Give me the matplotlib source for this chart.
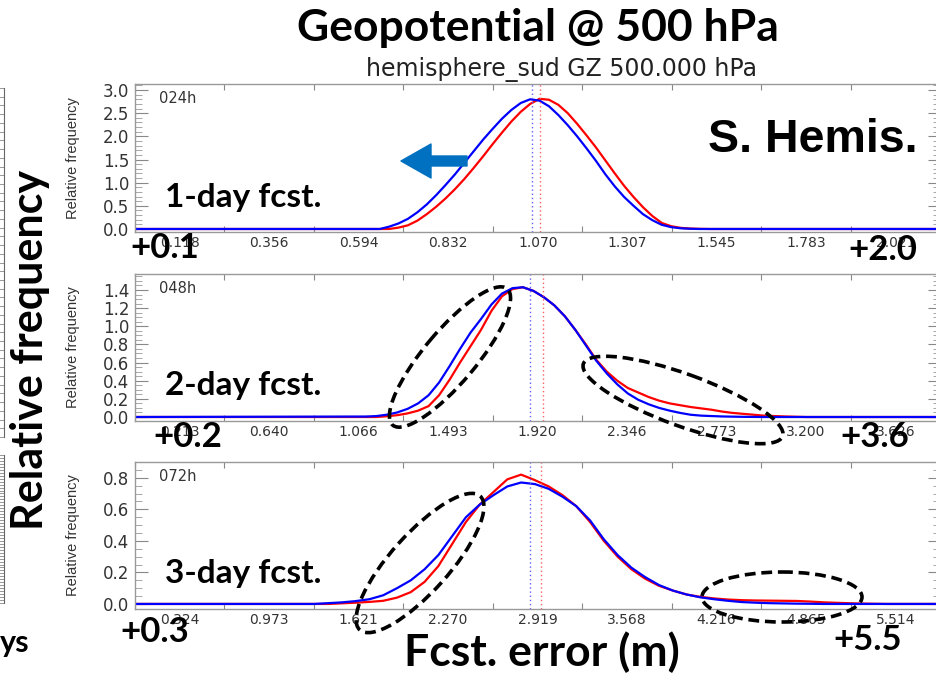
import numpy as np
import matplotlib.pyplot as plt
from matplotlib.patches import Ellipse, FancyArrow
from matplotlib.ticker import MultipleLocator, FixedLocator, NullFormatter

W, H = 936, 678

# x tick labels of each panel (IDL puts them at bin centres)
x_labels_24 = [0.118, 0.356, 0.594, 0.832, 1.070, 1.307, 1.545, 1.783, 2.021]
x_labels_48 = [0.213, 0.640, 1.066, 1.493, 1.920, 2.346, 2.773, 3.200, 3.626]
x_labels_72 = [0.324, 0.973, 1.621, 2.270, 2.919, 3.568, 4.216, 4.865, 5.514]

# curves: (error, relative frequency)
blue_x_24 = [0.0, 0.650, 0.675, 0.700, 0.725, 0.750, 0.775, 0.800, 0.825, 0.850, 0.875, 0.900, 0.925,
             0.950, 0.975, 1.000, 1.025, 1.050, 1.075, 1.100, 1.125, 1.150, 1.175, 1.200, 1.225,
             1.250, 1.275, 1.300, 1.325, 1.350, 1.375, 1.400, 1.425, 1.450, 1.475, 1.500, 2.139]
blue_y_24 = [0.0, 0.0, 0.05, 0.12, 0.22, 0.36, 0.53, 0.73, 0.95, 1.18, 1.43, 1.68, 1.93,
             2.16, 2.38, 2.57, 2.72, 2.80, 2.77, 2.65, 2.46, 2.24, 2.00, 1.74, 1.47,
             1.18, 0.92, 0.69, 0.50, 0.32, 0.19, 0.09, 0.04, 0.015, 0.005, 0.0, 0.0]
red_x_24 = [0.0, 0.675, 0.700, 0.725, 0.750, 0.775, 0.800, 0.825, 0.850, 0.875, 0.900, 0.925, 0.950,
            0.975, 1.000, 1.025, 1.050, 1.075, 1.100, 1.125, 1.150, 1.175, 1.200, 1.225, 1.250,
            1.275, 1.300, 1.325, 1.350, 1.375, 1.400, 1.425, 1.450, 1.475, 1.500, 1.530, 2.139]
red_y_24 = [0.0, 0.0, 0.03, 0.08, 0.18, 0.32, 0.48, 0.66, 0.86, 1.08, 1.32, 1.57, 1.83,
            2.08, 2.32, 2.53, 2.70, 2.81, 2.79, 2.68, 2.50, 2.27, 2.02, 1.76, 1.48,
            1.20, 0.93, 0.69, 0.47, 0.28, 0.13, 0.06, 0.025, 0.01, 0.004, 0.0, 0.0]

blue_x_48 = [0.0, 1.10, 1.15, 1.20, 1.25, 1.30, 1.35, 1.40, 1.45, 1.50, 1.55, 1.60, 1.65, 1.70, 1.75,
             1.80, 1.85, 1.90, 1.95, 2.00, 2.05, 2.10, 2.15, 2.20, 2.25, 2.30, 2.35, 2.40, 2.45,
             2.50, 2.55, 2.60, 2.65, 2.70, 2.80, 2.90, 3.00, 3.839]
blue_y_48 = [0.0, 0.005, 0.01, 0.025, 0.05, 0.09, 0.15, 0.24, 0.38, 0.56, 0.75, 0.93, 1.08, 1.24, 1.36,
             1.42, 1.43, 1.39, 1.32, 1.23, 1.11, 0.96, 0.79, 0.62, 0.48, 0.36, 0.26, 0.19, 0.14,
             0.10, 0.07, 0.045, 0.025, 0.015, 0.006, 0.002, 0.0, 0.0]
red_x_48 = [0.0, 1.15, 1.20, 1.25, 1.30, 1.35, 1.40, 1.45, 1.50, 1.55, 1.60, 1.65, 1.70, 1.75, 1.80,
            1.85, 1.90, 1.95, 2.00, 2.05, 2.10, 2.15, 2.20, 2.25, 2.30, 2.35, 2.40, 2.45, 2.50,
            2.55, 2.60, 2.65, 2.70, 2.75, 2.80, 2.85, 2.90, 2.95, 3.00, 3.10, 3.20, 3.839]
red_y_48 = [0.0, 0.0, 0.008, 0.02, 0.04, 0.07, 0.12, 0.24, 0.41, 0.60, 0.78, 0.96, 1.17, 1.33, 1.41,
            1.43, 1.39, 1.32, 1.23, 1.11, 0.96, 0.80, 0.63, 0.50, 0.40, 0.32, 0.27, 0.22, 0.18,
            0.15, 0.13, 0.11, 0.095, 0.08, 0.06, 0.045, 0.035, 0.025, 0.015, 0.006, 0.0, 0.0]

blue_x_72 = [0.0, 1.30, 1.40, 1.50, 1.60, 1.70, 1.80, 1.90, 2.00, 2.10, 2.20, 2.30, 2.40, 2.50, 2.60,
             2.70, 2.80, 2.90, 3.00, 3.10, 3.20, 3.30, 3.40, 3.50, 3.60, 3.70, 3.80, 3.90, 4.00,
             4.10, 4.20, 4.30, 4.40, 4.50, 4.60, 4.80, 5.00, 5.838]
blue_y_72 = [0.0, 0.0, 0.005, 0.01, 0.018, 0.03, 0.055, 0.10, 0.15, 0.22, 0.31, 0.43, 0.55, 0.63, 0.69,
             0.745, 0.77, 0.76, 0.73, 0.68, 0.62, 0.53, 0.41, 0.31, 0.23, 0.17, 0.12, 0.085, 0.06,
             0.042, 0.03, 0.02, 0.012, 0.008, 0.005, 0.002, 0.0, 0.0]
red_x_72 = [0.0, 1.40, 1.50, 1.60, 1.70, 1.80, 1.90, 2.00, 2.10, 2.20, 2.30, 2.40, 2.50, 2.60, 2.70,
            2.80, 2.90, 3.00, 3.10, 3.20, 3.30, 3.40, 3.50, 3.60, 3.70, 3.80, 3.90, 4.00, 4.10,
            4.20, 4.30, 4.40, 4.50, 4.60, 4.70, 4.80, 4.90, 5.00, 5.10, 5.20, 5.30, 5.45, 5.838]
red_y_72 = [0.0, 0.0, 0.004, 0.008, 0.013, 0.02, 0.04, 0.075, 0.14, 0.24, 0.38, 0.52, 0.63, 0.71, 0.79,
            0.82, 0.785, 0.745, 0.69, 0.62, 0.52, 0.40, 0.30, 0.22, 0.16, 0.115, 0.085, 0.06, 0.045,
            0.035, 0.028, 0.024, 0.022, 0.021, 0.02, 0.019, 0.015, 0.01, 0.007, 0.004, 0.002, 0.0, 0.0]

# mean error (dotted verticals)
blue_mean = [1.056, 1.884, 2.865]
red_mean = [1.077, 1.946, 2.945]

leads = ['024h', '048h', '072h']
y_ticks = [[0.0, 0.5, 1.0, 1.5, 2.0, 2.5, 3.0],
           [0.0, 0.2, 0.4, 0.6, 0.8, 1.0, 1.2, 1.4],
           [0.0, 0.2, 0.4, 0.6, 0.8]]
y_limits = [(-0.065, 3.13), (-0.044, 1.576), (-0.032, 0.90)]
y_minor = [0.1, 0.05, 0.05]

panels = [
    (x_labels_24, blue_x_24, blue_y_24, red_x_24, red_y_24),
    (x_labels_48, blue_x_48, blue_y_48, red_x_48, red_y_48),
    (x_labels_72, blue_x_72, blue_y_72, red_x_72, red_y_72),
]
# top / bottom pixel rows of each panel
rows = [(84, 232), (274, 421), (462, 609)]

fig = plt.figure(figsize=(W / 100, H / 100), dpi=100)

for i, (xl, bx, by, rx, ry) in enumerate(panels):
    top, bot = rows[i]
    ax = fig.add_axes([135 / W, 1 - bot / H, 805 / W, (bot - top) / H])
    d = (xl[-1] - xl[0]) / 8
    edges = [xl[0] - d / 2 + k * d for k in range(10)]
    ax.plot(rx, ry, color='red', lw=1.6)
    ax.plot(bx, by, color='blue', lw=1.6)
    ax.axvline(blue_mean[i], color='#6060ff', lw=1, ls=(0, (1, 2)))
    ax.axvline(red_mean[i], color='#ff6060', lw=1, ls=(0, (1, 2)))
    ax.set_xlim(edges[0], edges[-1])
    ax.set_ylim(*y_limits[i])

    ax.xaxis.set_major_locator(FixedLocator(edges))
    ax.xaxis.set_major_formatter(NullFormatter())
    ax.xaxis.set_minor_locator(FixedLocator(xl))
    ax.set_xticklabels(['%.3f' % v for v in xl], minor=True)
    ax.tick_params(axis='x', which='major', direction='in', top=True, length=4, color='#888888')
    ax.tick_params(axis='x', which='minor', length=0, pad=3, labelsize=10, labelcolor='#333333')

    ax.set_yticks(y_ticks[i])
    ax.set_yticklabels(['%.1f' % v for v in y_ticks[i]])
    ax.yaxis.set_minor_locator(MultipleLocator(y_minor[i]))
    ax.tick_params(axis='y', which='major', direction='in', right=True, length=9, color='#888888',
                   labelsize=12, labelcolor='#333333', pad=4)
    ax.tick_params(axis='y', which='minor', direction='in', right=True, length=5, color='#999999')
    for s in ax.spines.values():
        s.set_color('#999999')
        s.set_linewidth(1)
    ax.set_ylabel('Relative frequency', fontsize=10.5, color='#333333', family='Liberation Sans')
    ax.yaxis.set_label_coords(-55 / 805, 0.5)
    ax.text(0.03, 0.95, leads[i], transform=ax.transAxes, fontsize=10.5, color='#333333',
            va='top', ha='left')

# remnants of the neighbouring chart on the left edge
for (t, b, step) in [(88, 437, 0.025), (455, 603, 0.02)]:
    lax = fig.add_axes([0, 1 - b / H, 4 / W, (b - t) / H])
    lax.set_ylim(0, 1)
    lax.set_xticks([])
    for k in ['left', 'top', 'bottom']:
        lax.spines[k].set_visible(False)
    lax.spines['right'].set_color('#666666')
    lax.yaxis.tick_right()
    lax.yaxis.set_major_locator(MultipleLocator(step))
    lax.yaxis.set_major_formatter(NullFormatter())
    lax.tick_params(axis='y', direction='in', length=4, color='#888888', width=0.6)

# overlay in pixel coordinates for the slide annotations
ov = fig.add_axes([0, 0, 1, 1])
ov.set_xlim(0, W)
ov.set_ylim(H, 0)
ov.axis('off')
ov.patch.set_alpha(0)

bold = dict(family='Lato', weight='bold', color='black')
ov.text(538, 28, 'Geopotential @ 500 hPa', ha='center', va='center', fontsize=32, **bold)
ov.text(561, 70, 'hemisphere_sud GZ 500.000 hPa', ha='center', va='center', fontsize=17,
        family='DejaVu Sans', color='#222222')
ov.text(918, 140, 'S. Hemis.', ha='right', va='center', fontsize=33.5, family='Liberation Sans',
        weight='bold')
for y, s in [(197, '1-day fcst.'), (385, '2-day fcst.'), (573, '3-day fcst.')]:
    ov.text(165, y, s, ha='left', va='center', fontsize=24, **bold)
for x, y, s in [(130, 248, '+0.1'), (848, 250, '+2.0'), (153, 437, '+0.2'), (840, 437, '+3.6'),
                (120, 632, '+0.3'), (833, 640, '+5.5')]:
    ov.text(x, y, s, ha='left', va='center', fontsize=25, **bold)
ov.text(542, 652, 'Fcst. error (m)', ha='center', va='center', fontsize=32, **bold)
ov.text(30, 350, 'Relative frequency', ha='center', va='center', rotation=90, fontsize=31, **bold)
ov.text(0, 643, 'ys', ha='left', va='center', fontsize=22, **bold)

ov.add_patch(FancyArrow(467, 161, -36, 0, width=10, head_width=34, head_length=30,
                        color='#0070C0', length_includes_head=False, joinstyle='round'))

dash = dict(fill=False, ec='black', lw=2.6, ls=(0, (3, 1.6)))
ov.add_patch(Ellipse((450, 357), 178, 52, angle=-50, **dash))
ov.add_patch(Ellipse((683, 400), 212, 52, angle=20, **dash))
ov.add_patch(Ellipse((420, 563), 180, 58, angle=-48, **dash))
ov.add_patch(Ellipse((782, 597), 160, 50, angle=0, **dash))

fig.savefig('out.png', dpi=100)
